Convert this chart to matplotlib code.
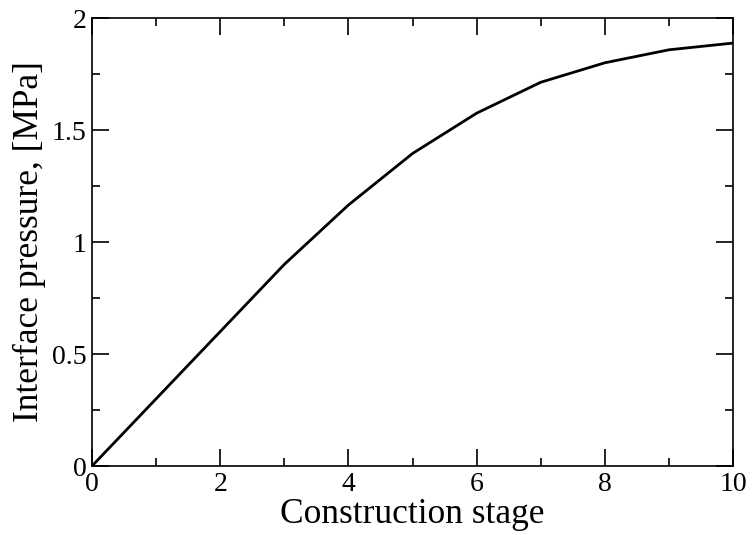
import matplotlib
matplotlib.use('Agg')
import matplotlib.pyplot as plt
from matplotlib.ticker import MultipleLocator

plt.rcParams['font.family'] = 'Liberation Serif'

# interface pressure at each construction stage
stage = [0, 1, 2, 3, 4, 5, 6, 7, 8, 9, 10]
pressure = [0.0, 0.30, 0.60, 0.90, 1.165, 1.395, 1.575, 1.713, 1.80, 1.858, 1.888]

fig = plt.figure(figsize=(7.52, 5.35), dpi=100)
ax = fig.add_axes([92 / 752, 1 - 466 / 535, 641 / 752, 448 / 535])

ax.plot(stage, pressure, color='black', lw=2)

ax.set_xlim(0, 10)
ax.set_ylim(0, 2)
ax.xaxis.set_major_locator(MultipleLocator(2))
ax.xaxis.set_minor_locator(MultipleLocator(1))
ax.yaxis.set_major_locator(MultipleLocator(0.5))
ax.yaxis.set_minor_locator(MultipleLocator(0.25))
ax.yaxis.set_major_formatter(plt.FuncFormatter(lambda v, p: '%g' % v))

ax.tick_params(which='both', direction='in', top=True, right=True, labelsize=20, width=1.2)
ax.tick_params(which='major', length=12, pad=4)
ax.tick_params(which='minor', length=6)
for s in ax.spines.values():
    s.set_linewidth(1.2)

ax.set_xlabel('Construction stage', fontsize=25.5, labelpad=1)
ax.set_ylabel('Interface pressure, [MPa]', fontsize=25.5, labelpad=4)

fig.savefig('out.png', dpi=100)
